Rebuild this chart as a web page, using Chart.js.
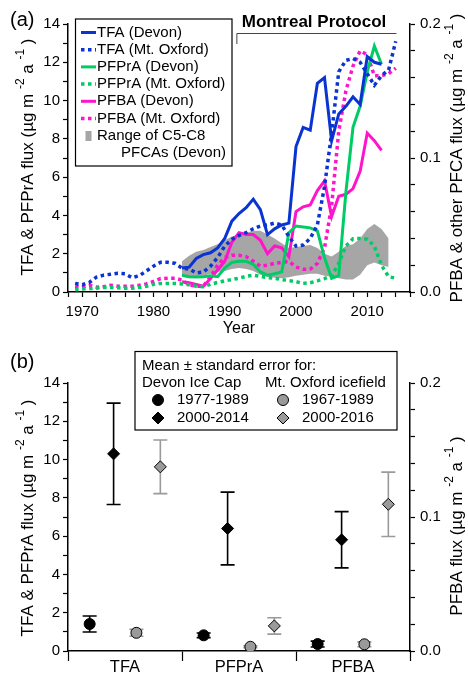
<!DOCTYPE html>
<html>
<head>
<meta charset="utf-8">
<script src="https://cdn.jsdelivr.net/npm/chart.js@4.4.1/dist/chart.umd.min.js"></script>
<style>
  body { margin: 0; background: #fff; }
  #wrap { position: relative; width: 468px; height: 675px; }
  #ca { position: absolute; left: 0; top: 0; }
  #cb { position: absolute; left: 0; top: 340px; }
</style>
</head>
<body>
<div id="wrap">
  <canvas id="ca" width="468" height="340"></canvas>
  <canvas id="cb" width="468" height="335"></canvas>
</div>
<script>
// ---------- panel (a): annual fluxes ----------
const devonYears = [1984, 1985, 1986, 1987, 1988, 1989, 1990, 1991, 1992, 1993, 1994, 1995, 1996, 1997, 1998, 1999,
  2000, 2001, 2002, 2003, 2004, 2005, 2006, 2007, 2008, 2009, 2010, 2011, 2012];
const oxfordYears = [1969, 1970, 1971, 1972, 1973, 1974, 1975, 1976, 1977, 1978, 1979,
  1980, 1981, 1982, 1983, 1984, 1985, 1986, 1987, 1988, 1989,
  1990, 1991, 1992, 1993, 1994, 1995, 1996, 1997, 1998, 1999,
  2000, 2001, 2002, 2003, 2004, 2005, 2006, 2007, 2008, 2009,
  2010, 2011, 2012, 2013, 2014];
const bandYears = [1984, 1985, 1986, 1987, 1988, 1989, 1990, 1991, 1992, 1993, 1994, 1995, 1996, 1997, 1998, 1999,
  2000, 2001, 2002, 2003, 2004, 2005, 2006, 2007, 2008, 2009, 2010, 2011, 2012, 2013];

// left axis (TFA & PFPrA)
const tfaDevon = [1.25, 1.3, 1.75, 1.95, 2.05, 2.3, 2.8, 3.7, 4.1, 4.4, 4.85, 4.3, 3.0, 3.3, 3.5, 3.6,
  7.6, 8.6, 8.45, 10.9, 11.2, 7.9, 9.3, 9.7, 10.2, 9.8, 12.3, 12.0, 11.9];
const tfaOxford = [0.45, 0.38, 0.5, 0.78, 0.88, 0.93, 0.98, 0.95, 0.75, 0.85, 1.1,
  1.35, 1.55, 1.55, 1.5, 1.25, 1.2, 1.0, 1.05, 1.35, 1.8,
  2.4, 2.75, 2.95, 3.1, 3.3, 3.45, 3.5, 3.6, 3.5, 2.9,
  2.4, 2.45, 2.8, 3.5, 5.5, 8.3, 11.5, 12.1, 12.2, 12.0,
  11.4, 10.8, 11.3, 11.6, 13.1];
const pfprDevon = [0.88, 0.8, 0.78, 0.8, 0.85, 0.8, 1.25, 1.55, 1.6, 1.6, 1.45, 1.05, 0.88, 0.95, 1.05, 3.1,
  3.45, 3.4, 3.35, 3.2, 1.8, 0.72, 0.85, 5.2, 8.6, 9.7, 11.5, 12.85, 11.9];
const pfprOxford = [0.12, 0.15, 0.18, 0.2, 0.24, 0.24, 0.22, 0.2, 0.2, 0.24, 0.3,
  0.4, 0.45, 0.45, 0.45, 0.42, 0.38, 0.3, 0.28, 0.4, 0.5,
  0.58, 0.65, 0.72, 0.82, 0.88, 0.82, 0.75, 0.72, 0.65, 0.6,
  0.54, 0.45, 0.48, 0.58, 0.7, 0.85, 1.5, 2.4, 2.78, 2.8,
  2.76, 2.4, 1.4, 0.8, 0.72];

// right axis (PFBA & other PFCAs)
const pfbaDevon = [0.0077, 0.0069, 0.0057, 0.0043, 0.010, 0.0164, 0.0229, 0.0371, 0.0443, 0.0429, 0.0429, 0.0386,
  0.0286, 0.0343, 0.0329, 0.0264, 0.060, 0.0636, 0.065, 0.0757, 0.0829, 0.0563, 0.0714, 0.0729, 0.0771, 0.090,
  0.1186, 0.1129, 0.1057];
const pfbaOxford = [0.0043, 0.0036, 0.005, 0.0036, 0.004, 0.005, 0.0043, 0.0043, 0.0043, 0.005, 0.006,
  0.0079, 0.010, 0.0103, 0.0103, 0.0089, 0.0054, 0.0043, 0.0043, 0.0114, 0.020,
  0.0257, 0.0274, 0.0274, 0.0264, 0.0229, 0.0193, 0.020, 0.0214, 0.0221, 0.0229,
  0.0186, 0.0169, 0.0171, 0.0214, 0.0329, 0.0643, 0.120, 0.150, 0.1686, 0.180,
  0.1771, 0.1614, 0.1614, 0.1629, 0.1671];
const rangeLow = [0.0114, 0.0103, 0.0107, 0.0121, 0.0136, 0.015, 0.0157, 0.0171, 0.0179, 0.0171, 0.0157, 0.0129,
  0.0114, 0.0107, 0.0103, 0.0111, 0.0121, 0.0129, 0.0136, 0.0136, 0.0121, 0.0114, 0.0103, 0.0093, 0.0093, 0.0129,
  0.020, 0.0221, 0.020, 0.0186];
const rangeHigh = [0.0229, 0.0271, 0.030, 0.0314, 0.0336, 0.0357, 0.0386, 0.0414, 0.0429, 0.0443, 0.0457, 0.0457,
  0.0429, 0.040, 0.0364, 0.0329, 0.0336, 0.0343, 0.035, 0.0329, 0.0286, 0.0264, 0.030, 0.0343, 0.0357, 0.040,
  0.0471, 0.0507, 0.0471, 0.040];

const protocolYears = [1991.7, 2014.1];

// ---------- panel (b): period means ----------
const categories = ['TFA', 'PFPrA', 'PFBA'];
const devonEarly = [1.41, 0.82, 0.0052];
const devonEarlyErr = [0.42, 0.12, 0.0022];
const devonLate = [10.3, 6.4, 0.083];
const devonLateErr = [2.65, 1.9, 0.021];
const oxfordEarly = [0.95, 0.22, 0.005];
const oxfordEarlyErr = [0.18, 0.05, 0.0018];
const oxfordLate = [9.62, 1.31, 0.1095];
const oxfordLateErr = [1.4, 0.43, 0.024];

// ---------- styling ----------
const FONT = '"Liberation Sans", Arial, Helvetica, sans-serif';
Chart.defaults.font.family = FONT;
Chart.defaults.color = '#000';
const BLUE = '#0a34d2';
const GREEN = '#00cc66';
const MAGENTA = '#ff14cc';
const BAND = '#a6a6a6';
const GREY = '#9a9a9a';

function pts(xs, ys) {
  return xs.map((x, i) => ({ x: x, y: ys[i] }));
}

function lineDs(label, xs, ys, color, dotted, axis, order) {
  return {
    label: label, data: pts(xs, ys), yAxisID: axis, order: order,
    borderColor: color, borderWidth: dotted ? 3.5 : 3,
    borderDash: dotted ? [3.5, 3.5] : [], borderCapStyle: 'butt',
    pointRadius: 0, fill: false, tension: 0
  };
}

function richText(ctx, x, y, parts, size, rotate) {
  ctx.save();
  ctx.translate(x, y);
  if (rotate) ctx.rotate(-Math.PI / 2);
  ctx.fillStyle = '#000';
  ctx.textBaseline = 'middle';
  ctx.textAlign = 'left';
  const fontOf = p => (p.sup ? size * 0.7 : size) + 'px ' + FONT;
  const widths = parts.map(p => { ctx.font = fontOf(p); return ctx.measureText(p.t).width; });
  let cx = -widths.reduce((a, b) => a + b, 0) / 2;
  parts.forEach((p, i) => {
    ctx.font = fontOf(p);
    ctx.fillText(p.t, cx, p.sup ? -size * 0.42 : 0);
    cx += widths[i];
  });
  ctx.restore();
}

function unitParts(prefix) {
  return [{ t: prefix + ' (µg m ' }, { t: '-2', sup: true }, { t: ' a ' }, { t: '-1', sup: true }, { t: ' )' }];
}

function text(ctx, str, x, y, size, align, bold) {
  ctx.save();
  ctx.font = (bold ? 'bold ' : '') + size + 'px ' + FONT;
  ctx.fillStyle = '#000';
  ctx.textAlign = align || 'left';
  ctx.textBaseline = 'middle';
  ctx.fillText(str, x, y);
  ctx.restore();
}

function stepTicks(min, max, step) {
  return scale => {
    scale.ticks = [];
    for (let v = min; v <= max + step / 2; v += step) scale.ticks.push({ value: +v.toFixed(4) });
  };
}

const axisGrid = { drawOnChartArea: false, drawTicks: true, tickLength: 5, tickColor: '#000', tickWidth: 1.2 };
const axisBorder = { display: true, color: '#000', width: 1.5 };

function yLeft(width) {
  return {
    type: 'linear', position: 'left', min: 0, max: 14,
    afterBuildTicks: stepTicks(0, 14, 1),
    afterFit: s => { s.width = width; s.paddingTop = 0; s.paddingBottom = 0; },
    ticks: { autoSkip: false, padding: 3, font: { size: 15 }, callback: v => (v % 2 === 0 ? String(v) : '') },
    grid: axisGrid, border: axisBorder
  };
}

function yRight(width) {
  return {
    type: 'linear', position: 'right', min: 0, max: 0.2,
    afterBuildTicks: stepTicks(0, 0.2, 0.02),
    afterFit: s => { s.width = width; s.paddingTop = 0; s.paddingBottom = 0; },
    ticks: {
      autoSkip: false, padding: 5, font: { size: 15 },
      callback: v => (Math.abs(v * 10 - Math.round(v * 10)) < 1e-6 ? v.toFixed(1) : '')
    },
    grid: axisGrid, border: axisBorder
  };
}

// ---------- panel (a) ----------
const panelA = {
  id: 'panelA',
  afterDraw(chart) {
    const ctx = chart.ctx;
    const xs = chart.scales.x;
    text(ctx, '(a)', 10, 20, 20);
    richText(ctx, 28, 157, unitParts('TFA & PFPrA flux'), 17, true);
    richText(ctx, 457, 158, unitParts('PFBA & other PFCA flux'), 17, true);
    text(ctx, 'Year', (chart.chartArea.left + chart.chartArea.right) / 2, 329, 16, 'center');

    // Montreal Protocol bracket
    const x0 = xs.getPixelForValue(protocolYears[0]);
    const x1 = xs.getPixelForValue(protocolYears[1]);
    ctx.save();
    ctx.strokeStyle = '#444';
    ctx.lineWidth = 1;
    ctx.beginPath();
    ctx.moveTo(x0, 44); ctx.lineTo(x0, 33.5); ctx.lineTo(x1, 33.5);
    ctx.stroke();
    ctx.restore();
    text(ctx, 'Montreal Protocol', 314, 22, 17, 'center', true);

    // legend
    ctx.save();
    ctx.fillStyle = '#fff';
    ctx.fillRect(75.5, 19, 156.5, 147);
    ctx.strokeStyle = '#000';
    ctx.lineWidth = 1.2;
    ctx.strokeRect(75.5, 19, 156.5, 147);
    const items = [
      ['TFA (Devon)', BLUE, false], ['TFA (Mt. Oxford)', BLUE, true],
      ['PFPrA (Devon)', GREEN, false], ['PFPrA (Mt. Oxford)', GREEN, true],
      ['PFBA (Devon)', MAGENTA, false], ['PFBA (Mt. Oxford)', MAGENTA, true]
    ];
    items.forEach((it, i) => {
      const y = 32.5 + i * 17.2;
      ctx.strokeStyle = it[1];
      ctx.lineWidth = it[2] ? 3.5 : 3;
      ctx.setLineDash(it[2] ? [3.5, 3.5] : []);
      ctx.beginPath(); ctx.moveTo(81, y); ctx.lineTo(96, y); ctx.stroke();
      text(ctx, it[0], 97, y, 15);
    });
    ctx.setLineDash([]);
    ctx.fillStyle = BAND;
    ctx.fillRect(85.5, 131, 6, 10);
    text(ctx, 'Range of C5-C8', 97, 135.7, 15);
    text(ctx, 'PFCAs (Devon)', 226, 152.9, 15, 'right');
    ctx.restore();
  }
};

new Chart(document.getElementById('ca'), {
  type: 'line',
  data: {
    datasets: [
      lineDs('TFA (Devon)', devonYears, tfaDevon, BLUE, false, 'y', 1),
      lineDs('TFA (Mt. Oxford)', oxfordYears, tfaOxford, BLUE, true, 'y', 2),
      lineDs('PFPrA (Devon)', devonYears, pfprDevon, GREEN, false, 'y', 3),
      lineDs('PFPrA (Mt. Oxford)', oxfordYears, pfprOxford, GREEN, true, 'y', 4),
      lineDs('PFBA (Devon)', devonYears, pfbaDevon, MAGENTA, false, 'y1', 5),
      lineDs('PFBA (Mt. Oxford)', oxfordYears, pfbaOxford, MAGENTA, true, 'y1', 6),
      { label: 'range low', data: pts(bandYears, rangeLow), yAxisID: 'y1', order: 20,
        borderWidth: 0, pointRadius: 0, fill: false, tension: 0 },
      { label: 'Range of C5-C8 PFCAs (Devon)', data: pts(bandYears, rangeHigh), yAxisID: 'y1', order: 20,
        borderWidth: 0, pointRadius: 0, fill: '-1', backgroundColor: BAND, tension: 0 }
    ]
  },
  options: {
    responsive: false, animation: false,
    layout: { padding: { left: 0, right: 0, top: 24, bottom: 0 } },
    plugins: { legend: { display: false }, tooltip: { enabled: false } },
    scales: {
      x: {
        type: 'linear', min: 1968, max: 2016,
        afterBuildTicks: stepTicks(1968, 2016, 2),
        afterFit: s => { s.height = 48; s.paddingLeft = 0; s.paddingRight = 0; },
        ticks: { autoSkip: false, maxRotation: 0, padding: 6, font: { size: 15 },
          callback: v => (v % 10 === 0 ? String(v) : '') },
        grid: axisGrid, border: axisBorder
      },
      y: yLeft(68),
      y1: yRight(58)
    }
  },
  plugins: [panelA]
});

// ---------- panel (b) ----------
const groups = [
  { label: 'Devon 1977-1989', means: devonEarly, errs: devonEarlyErr, offset: -0.31,
    style: 'circle', radius: 5.5, fill: '#000', errColor: '#000' },
  { label: 'Devon 2000-2014', means: devonLate, errs: devonLateErr, offset: -0.1,
    style: 'rectRot', radius: 6, fill: '#000', errColor: '#000' },
  { label: 'Mt. Oxford 1967-1989', means: oxfordEarly, errs: oxfordEarlyErr, offset: 0.1,
    style: 'circle', radius: 5.5, fill: GREY, errColor: GREY },
  { label: 'Mt. Oxford 2000-2016', means: oxfordLate, errs: oxfordLateErr, offset: 0.31,
    style: 'rectRot', radius: 6, fill: GREY, errColor: GREY }
];

const datasetsB = [];
groups.forEach(g => {
  const base = {
    label: g.label, showLine: false, pointStyle: g.style, pointRadius: g.radius,
    pointBackgroundColor: g.fill, pointBorderColor: '#000', pointBorderWidth: 1, errColor: g.errColor
  };
  datasetsB.push(Object.assign({}, base, {
    yAxisID: 'y', data: [0, 1].map(i => ({ x: i + g.offset, y: g.means[i] })), errs: g.errs.slice(0, 2)
  }));
  datasetsB.push(Object.assign({}, base, {
    yAxisID: 'y1', data: [{ x: 2 + g.offset, y: g.means[2] }], errs: g.errs.slice(2)
  }));
});

const panelB = {
  id: 'panelB',
  beforeDatasetsDraw(chart) {
    const ctx = chart.ctx;
    const xs = chart.scales.x;
    chart.data.datasets.forEach(ds => {
      const ys = chart.scales[ds.yAxisID];
      ds.data.forEach((p, i) => {
        const px = xs.getPixelForValue(p.x);
        const top = ys.getPixelForValue(p.y + ds.errs[i]);
        const bot = ys.getPixelForValue(p.y - ds.errs[i]);
        ctx.save();
        ctx.strokeStyle = ds.errColor;
        ctx.lineWidth = 1.6;
        ctx.beginPath();
        ctx.moveTo(px, top); ctx.lineTo(px, bot);
        ctx.moveTo(px - 7, top); ctx.lineTo(px + 7, top);
        ctx.moveTo(px - 7, bot); ctx.lineTo(px + 7, bot);
        ctx.stroke();
        ctx.restore();
      });
    });
  },
  afterDraw(chart) {
    const ctx = chart.ctx;
    text(ctx, '(b)', 10, 22, 20);
    richText(ctx, 28, 178, unitParts('TFA & PFPrA flux'), 17, true);
    richText(ctx, 457, 186, unitParts('PFBA flux'), 17, true);

    ctx.save();
    ctx.fillStyle = '#fff';
    ctx.fillRect(135, 11.5, 262, 78.5);
    ctx.strokeStyle = '#000';
    ctx.lineWidth = 1.2;
    ctx.strokeRect(135, 11.5, 262, 78.5);
    text(ctx, 'Mean ± standard error for:', 142, 26, 15);
    text(ctx, 'Devon Ice Cap', 142, 42.5, 15);
    text(ctx, 'Mt. Oxford icefield', 265, 42.5, 15);
    const keyPos = [[158, 60, '1977-1989'], [158, 78, '2000-2014'], [283, 60, '1967-1989'], [283, 78, '2000-2016']];
    groups.forEach((g, i) => {
      const k = keyPos[i];
      ctx.fillStyle = g.fill;
      ctx.strokeStyle = '#000';
      ctx.lineWidth = 1;
      Chart.helpers.drawPoint(ctx, { pointStyle: g.style, radius: g.radius, borderWidth: 1 }, k[0], k[1]);
      text(ctx, k[2], k[0] + 19, k[1], 15);
    });
    ctx.restore();
  }
};

new Chart(document.getElementById('cb'), {
  type: 'scatter',
  data: { datasets: datasetsB },
  options: {
    responsive: false, animation: false,
    layout: { padding: { left: 0, right: 0, top: 43, bottom: 0 } },
    plugins: { legend: { display: false }, tooltip: { enabled: false } },
    scales: {
      x: {
        type: 'linear', min: -0.5, max: 2.5,
        afterBuildTicks: stepTicks(-0.5, 2.5, 0.5),
        afterFit: s => { s.height = 24; s.paddingLeft = 0; s.paddingRight = 0; },
        ticks: { autoSkip: false, maxRotation: 0, padding: -3, font: { size: 16.5 },
          callback: v => (Number.isInteger(v) ? categories[v] : '') },
        grid: Object.assign({}, axisGrid, {
          tickLength: 10,
          tickColor: c => (c.tick && Number.isInteger(c.tick.value) ? 'rgba(0,0,0,0)' : '#000')
        }),
        border: axisBorder
      },
      y: yLeft(68),
      y1: yRight(58)
    }
  },
  plugins: [panelB]
});
</script>
</body>
</html>
